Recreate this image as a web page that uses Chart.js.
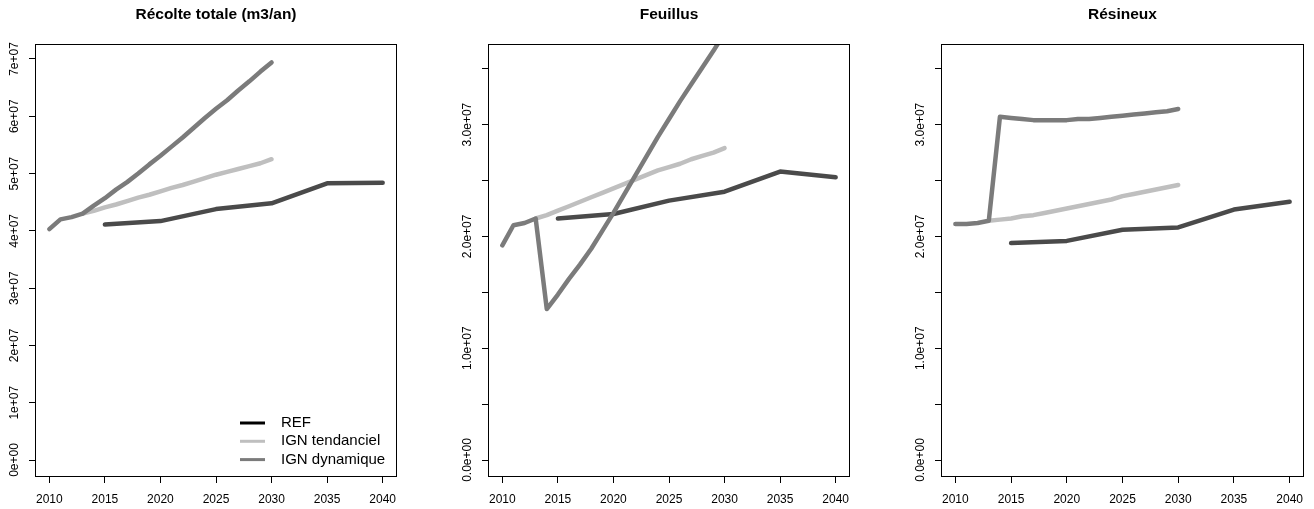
<!DOCTYPE html>
<html>
<head>
<meta charset="utf-8">
<title>Récolte</title>
<script src="https://cdn.jsdelivr.net/npm/chart.js@4.4.1/dist/chart.umd.min.js"></script>
<style>
  html, body { margin: 0; padding: 0; background: #fff; overflow: hidden; }
  .panel { position: absolute; top: 0; }
</style>
</head>
<body>
<canvas id="total" class="panel" width="432" height="509" style="left:0px"></canvas>
<canvas id="feuillus" class="panel" width="432" height="509" style="left:453px"></canvas>
<canvas id="resineux" class="panel" width="433" height="509" style="left:906px"></canvas>
<script>
// years
const refYears = [2015, 2020, 2025, 2030, 2035, 2040];
const tendYears = [2013, 2014, 2015, 2016, 2017, 2018, 2019, 2020, 2021, 2022,
  2023, 2024, 2025, 2026, 2027, 2028, 2029, 2030];
const dynYears = [2010, 2011, 2012, 2013, 2014, 2015, 2016, 2017, 2018, 2019, 2020,
  2021, 2022, 2023, 2024, 2025, 2026, 2027, 2028, 2029, 2030];

// Récolte totale (m3/an)
const refTotal = [4.11e7, 4.17e7, 4.38e7, 4.48e7, 4.83e7, 4.84e7];
const tendTotal = [4.30e7, 4.35e7, 4.41e7, 4.46e7, 4.52e7, 4.58e7, 4.63e7, 4.69e7, 4.75e7,
  4.80e7, 4.86e7, 4.92e7, 4.98e7, 5.03e7, 5.08e7, 5.13e7, 5.18e7, 5.25e7];
const dynTotal = [4.03e7, 4.20e7, 4.24e7, 4.30e7, 4.44e7, 4.57e7, 4.72e7, 4.85e7, 5.00e7,
  5.16e7, 5.31e7, 5.47e7, 5.63e7, 5.80e7, 5.97e7, 6.13e7, 6.28e7, 6.45e7, 6.61e7, 6.78e7, 6.94e7];

// Feuillus
const refFeuillus = [2.16e7, 2.20e7, 2.32e7, 2.40e7, 2.58e7, 2.53e7];
const tendFeuillus = [2.16e7, 2.19e7, 2.23e7, 2.27e7, 2.31e7, 2.35e7, 2.39e7, 2.43e7, 2.47e7,
  2.51e7, 2.55e7, 2.59e7, 2.62e7, 2.65e7, 2.69e7, 2.72e7, 2.75e7, 2.79e7];
const dynFeuillus = [1.92e7, 2.10e7, 2.12e7, 2.16e7, 1.35e7, 1.48e7, 1.62e7, 1.75e7, 1.89e7,
  2.05e7, 2.21e7, 2.38e7, 2.55e7, 2.72e7, 2.89e7, 3.05e7, 3.21e7, 3.36e7, 3.51e7, 3.66e7, 3.82e7];

// Résineux
const refResineux = [1.94e7, 1.96e7, 2.06e7, 2.08e7, 2.24e7, 2.31e7];
const tendResineux = [2.14e7, 2.15e7, 2.16e7, 2.18e7, 2.19e7, 2.21e7, 2.23e7, 2.25e7, 2.27e7,
  2.29e7, 2.31e7, 2.33e7, 2.36e7, 2.38e7, 2.40e7, 2.42e7, 2.44e7, 2.46e7];
const dynResineux = [2.11e7, 2.11e7, 2.12e7, 2.14e7, 3.07e7, 3.06e7, 3.05e7, 3.04e7, 3.04e7,
  3.04e7, 3.04e7, 3.05e7, 3.05e7, 3.06e7, 3.07e7, 3.08e7, 3.09e7, 3.10e7, 3.11e7, 3.12e7, 3.14e7];

// ticks
const xTicks = [2010, 2015, 2020, 2025, 2030, 2035, 2040];
const totalTicks = [0, 1e7, 2e7, 3e7, 4e7, 5e7, 6e7, 7e7];
const totalTickLabels = ["0e+00", "1e+07", "2e+07", "3e+07", "4e+07", "5e+07", "6e+07", "7e+07"];
const partTicks = [0, 5e6, 1e7, 1.5e7, 2e7, 2.5e7, 3e7, 3.5e7];
const partTickLabels = ["0.0e+00", "", "1.0e+07", "", "2.0e+07", "", "3.0e+07", ""];

const legendLabels = ["REF", "IGN tendanciel", "IGN dynamique"];

const FONT = "'Liberation Sans', Arial, Helvetica, sans-serif";
const REF_COLOR = "#4a4a4a";
const TEND_COLOR = "#bfbfbf";
const DYN_COLOR = "#7b7b7b";
const legendColors = ["#000000", TEND_COLOR, DYN_COLOR];
const AXIS_W = 36;

Chart.defaults.font.family = FONT;
Chart.defaults.color = "#000";

const measureCtx = document.createElement("canvas").getContext("2d");
measureCtx.font = "12px " + FONT;
const labelPadding = (labels) => {
  const widest = Math.max(...labels.map((l) => measureCtx.measureText(l).width));
  return 21.5 - 7 - widest / 2;
};

const toPoints = (xs, ys) => xs.map((x, i) => ({ x: x, y: ys[i] }));

const boxPlugin = {
  id: "plotBox",
  afterDraw(chart) {
    const { ctx, chartArea: a } = chart;
    ctx.save();
    ctx.strokeStyle = "#000";
    ctx.lineWidth = 1;
    ctx.strokeRect(a.left - 0.5, a.top - 0.5, a.right - a.left + 1, a.bottom - a.top + 1);
    ctx.restore();
  },
};

const legendPlugin = {
  id: "insetLegend",
  afterDraw(chart) {
    const { ctx, chartArea: a } = chart;
    ctx.save();
    ctx.font = "15px " + FONT;
    ctx.textBaseline = "middle";
    ctx.lineWidth = 3;
    legendLabels.forEach((name, i) => {
      const y = a.bottom - 53 + i * 18.3;
      ctx.strokeStyle = legendColors[i];
      ctx.beginPath();
      ctx.moveTo(a.right - 156, y);
      ctx.lineTo(a.right - 131, y);
      ctx.stroke();
      ctx.fillStyle = "#000";
      ctx.fillText(name, a.right - 115, y);
    });
    ctx.restore();
  },
};

const line = (label, data, color) => ({
  label: label,
  data: data,
  borderColor: color,
  backgroundColor: color,
  borderWidth: 4.5,
  borderCapStyle: "round",
  borderJoinStyle: "round",
  pointRadius: 0,
  fill: false,
  tension: 0,
});

function makePanel(id, title, ref, tend, dyn, yTicks, yLabels, yMin, yMax, withLegend) {
  const plugins = [boxPlugin];
  if (withLegend) plugins.push(legendPlugin);
  new Chart(document.getElementById(id), {
    type: "line",
    data: {
      datasets: [
        line("IGN dynamique", toPoints(dynYears, dyn), DYN_COLOR),
        line("IGN tendanciel", toPoints(tendYears, tend), TEND_COLOR),
        line("REF", toPoints(refYears, ref), REF_COLOR),
      ],
    },
    options: {
      responsive: false,
      animation: false,
      layout: { padding: 0 },
      plugins: {
        legend: { display: false },
        tooltip: { enabled: false },
        title: {
          display: true,
          text: title,
          color: "#000",
          font: { size: 15.5, weight: "bold" },
          padding: { top: 5, bottom: 21.4 },
        },
      },
      scales: {
        x: {
          type: "linear",
          min: 2008.8,
          max: 2041.2,
          afterBuildTicks: (s) => { s.ticks = xTicks.map((v) => ({ value: v })); },
          afterFit: (s) => { s.height = 33; },
          grid: { drawOnChartArea: false, drawTicks: true, tickLength: 7, color: "#000" },
          border: { display: false },
          ticks: {
            autoSkip: false,
            maxRotation: 0,
            padding: 9,
            font: { size: 12 },
            callback: (v) => String(v),
          },
        },
        y: {
          type: "linear",
          min: yMin,
          max: yMax,
          afterBuildTicks: (s) => { s.ticks = yTicks.map((v) => ({ value: v })); },
          afterFit: (s) => { s.width = AXIS_W; },
          grid: { drawOnChartArea: false, drawTicks: true, tickLength: 7, color: "#000" },
          border: { display: false },
          ticks: {
            autoSkip: false,
            minRotation: 90,
            maxRotation: 90,
            crossAlign: "center",
            padding: labelPadding(yLabels),
            font: { size: 12 },
            callback: (v, i) => yLabels[i],
          },
        },
        y2: {
          type: "linear",
          position: "right",
          display: true,
          afterFit: (s) => { s.width = AXIS_W; },
          grid: { display: false },
          border: { display: false },
          ticks: { display: false },
        },
      },
    },
    plugins: plugins,
  });
}

makePanel("total", "Récolte totale (m3/an)", refTotal, tendTotal, dynTotal,
  totalTicks, totalTickLabels, -2.79e6, 7.244e7, true);
makePanel("feuillus", "Feuillus", refFeuillus, tendFeuillus, dynFeuillus,
  partTicks, partTickLabels, -1.43e6, 3.712e7, false);
makePanel("resineux", "Résineux", refResineux, tendResineux, dynResineux,
  partTicks, partTickLabels, -1.43e6, 3.712e7, false);
</script>
</body>
</html>
